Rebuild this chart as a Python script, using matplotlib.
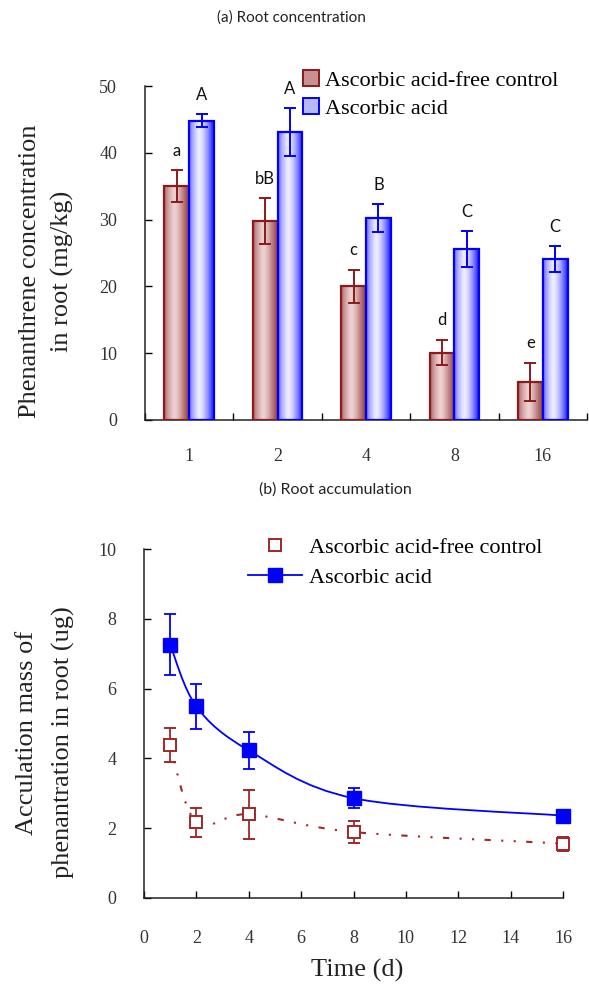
import numpy as np
import matplotlib
matplotlib.use("Agg")
import matplotlib.pyplot as plt
from matplotlib.path import Path
from matplotlib.patches import PathPatch, Patch
from matplotlib.lines import Line2D
from matplotlib.colors import LinearSegmentedColormap

# ---------------- data ----------------
days_labels = ["1", "2", "4", "8", "16"]
conc_control = [35.0, 29.8, 20.0, 10.1, 5.7]
conc_control_err = [2.4, 3.4, 2.5, 1.9, 2.9]
conc_ascorbic = [44.8, 43.1, 30.2, 25.6, 24.1]
conc_ascorbic_err = [1.0, 3.6, 2.1, 2.7, 1.9]
letters_control = ["a", "bB", "c", "d", "e"]
letters_ascorbic = ["A", "A", "B", "C", "C"]

time_days = [1, 2, 4, 8, 16]
acc_control = [4.38, 2.17, 2.40, 1.89, 1.56]
acc_control_err = [0.48, 0.41, 0.70, 0.32, 0.20]
acc_ascorbic = [7.26, 5.49, 4.23, 2.86, 2.36]
acc_ascorbic_err = [0.87, 0.65, 0.53, 0.29, 0.06]

label_control = "Ascorbic acid-free control"
label_ascorbic = "Ascorbic acid"

SERIF = ["Liberation Serif", "DejaVu Serif"]
SANS = ["Lato", "DejaVu Sans"]

red_edge = "#8B1A1A"
red_line = "#A0282A"
blue_edge = "#0000FF"

fig = plt.figure(figsize=(5.89, 9.86), dpi=100)

# ---------------- (a) bar chart ----------------
ax1 = fig.add_axes([145/589, (986-420)/986, (587-145)/589, (420-86)/986])
x = np.arange(len(days_labels))
w = 0.28
bars_c = ax1.bar(x - w/2, conc_control, w, facecolor="none", edgecolor=red_edge,
                 linewidth=1.6, zorder=3)
bars_a = ax1.bar(x + w/2, conc_ascorbic, w, facecolor="none", edgecolor=blue_edge,
                 linewidth=1.6, zorder=3)

cmap_c = LinearSegmentedColormap.from_list("c", ["#8E3C3C", "#BC7E7E", "#EED2D2"])
cmap_a = LinearSegmentedColormap.from_list("a", ["#1515FF", "#8888FF", "#EEEEFF"])
t = np.linspace(0, 1, 64)
profile = 1 - np.clip(np.abs(t - 0.42) / 0.58, 0, 1) ** 1.4
grad = profile[np.newaxis, :]
for bars, cm in ((bars_c, cmap_c), (bars_a, cmap_a)):
    for b in bars:
        x0 = b.get_x()
        x1 = x0 + b.get_width()
        h = b.get_height()
        im = ax1.imshow(grad, extent=(x0, x1, 0, h), aspect="auto", cmap=cm,
                        vmin=0, vmax=1, zorder=2, interpolation="bicubic")
        im.set_clip_path(b)

ax1.errorbar(x - w/2, conc_control, yerr=conc_control_err, fmt="none",
             ecolor=red_edge, elinewidth=1.4, capsize=4, capthick=1.4, zorder=4)
ax1.errorbar(x + w/2, conc_ascorbic, yerr=conc_ascorbic_err, fmt="none",
             ecolor=blue_edge, elinewidth=1.4, capsize=4, capthick=1.4, zorder=4)

for i in range(len(x)):
    ax1.annotate(letters_control[i], (x[i] - w/2, conc_control[i] + conc_control_err[i]),
                 xytext=(0, 14), textcoords="offset points", ha="center", va="center",
                 fontsize=12, family=SANS, color="#111111")
    ax1.annotate(letters_ascorbic[i], (x[i] + w/2, conc_ascorbic[i] + conc_ascorbic_err[i]),
                 xytext=(0, 14), textcoords="offset points", ha="center", va="center",
                 fontsize=12, family=SANS, color="#111111")

ax1.set_xlim(-0.5, len(x) - 0.5)
ax1.set_ylim(0, 50)
ax1.set_yticks(np.arange(0, 51, 10))
ax1.set_xticks(x)
ax1.set_xticklabels(days_labels)
ax1.set_xticks(np.arange(-0.5, len(x), 1.0), minor=True)
ax1.tick_params(axis="x", which="major", length=0, pad=20)
ax1.tick_params(axis="x", which="minor", direction="in", length=5, width=1)
ax1.tick_params(axis="y", direction="in", length=5, width=1, pad=20)
for lab in ax1.get_xticklabels() + ax1.get_yticklabels():
    lab.set_fontfamily(SERIF)
    lab.set_fontsize(13)
    lab.set_color("#333333")
for s in ("top", "right"):
    ax1.spines[s].set_visible(False)
for s in ("left", "bottom"):
    ax1.spines[s].set_linewidth(1.1)
    ax1.spines[s].set_color("#222222")

h1 = [Patch(facecolor="#C89090", edgecolor=red_edge, linewidth=1.4),
      Patch(facecolor="#B8B8FF", edgecolor=blue_edge, linewidth=1.4)]
ax1.legend(h1, [label_control, label_ascorbic], loc="upper left",
           bbox_to_anchor=((303-145)/442, (420-70)/334), frameon=False,
           prop={"family": SERIF, "size": 16}, handlelength=0.7, handleheight=0.7,
           handletextpad=0.3, labelspacing=0.35, borderpad=0, borderaxespad=0)

fig.text(291/589, 1 - 18/986, "(a) Root concentration", ha="center", va="center",
         fontsize=11, family=SANS, color="#222222")
fig.text(30/589, 1 - 271/986, "Phenanthrene concentration", rotation=90,
         ha="center", va="center", fontsize=19, family=SERIF, color="#222222")
fig.text(62/589, 1 - 271/986, "in root (mg/kg)", rotation=90,
         ha="center", va="center", fontsize=19, family=SERIF, color="#222222")

# ---------------- (b) line chart ----------------
ax2 = fig.add_axes([144/589, (986-898)/986, (563-144)/589, (898-549)/986])


def smooth_path(xs, ys):
    pts = np.column_stack([xs, ys]).astype(float)
    n = len(pts)
    verts = [pts[0]]
    codes = [Path.MOVETO]
    for i in range(n - 1):
        p0 = pts[i - 1] if i > 0 else pts[i]
        p1 = pts[i]
        p2 = pts[i + 1]
        p3 = pts[i + 2] if i + 2 < n else pts[i + 1]
        c1 = p1 + (p2 - p0) / 6.0
        c2 = p2 - (p3 - p1) / 6.0
        verts += [c1, c2, p2]
        codes += [Path.CURVE4] * 3
    return Path(verts, codes)


ax2.add_patch(PathPatch(smooth_path(time_days, acc_ascorbic), fill=False,
                        edgecolor=blue_edge, linewidth=1.3, zorder=3))
ax2.add_patch(PathPatch(smooth_path(time_days, acc_control), fill=False,
                        edgecolor=red_line, linewidth=1.5,
                        linestyle=(0, (3, 5, 1, 5, 1, 5)), zorder=3))

eb_a = ax2.errorbar(time_days, acc_ascorbic, yerr=acc_ascorbic_err, fmt="s", color=blue_edge,
                    markersize=9.5, markerfacecolor=blue_edge, markeredgecolor=blue_edge,
                    ecolor=blue_edge, elinewidth=1.3, capsize=4, capthick=1.3, zorder=5)
eb_c = ax2.errorbar(time_days, acc_control, yerr=acc_control_err, fmt="s", color=red_line,
                    markersize=9, markerfacecolor="white", markeredgecolor=red_line,
                    markeredgewidth=1.4, ecolor=red_line, elinewidth=1.3, capsize=4,
                    capthick=1.3, zorder=4)
for eb in (eb_a, eb_c):
    for child in eb.get_children():
        child.set_clip_on(False)

ax2.set_xlim(0, 16)
ax2.set_ylim(0, 10)
ax2.set_xticks(np.arange(0, 17, 2))
ax2.set_yticks(np.arange(0, 11, 2))
ax2.tick_params(axis="x", direction="in", length=5, width=1, pad=23)
ax2.tick_params(axis="y", direction="in", length=5, width=1, pad=20)
for lab in ax2.get_xticklabels() + ax2.get_yticklabels():
    lab.set_fontfamily(SERIF)
    lab.set_fontsize(13)
    lab.set_color("#333333")
for s in ("top", "right"):
    ax2.spines[s].set_visible(False)
for s in ("left", "bottom"):
    ax2.spines[s].set_linewidth(1.1)
    ax2.spines[s].set_color("#222222")

h2 = [Line2D([], [], linestyle="none", marker="s", markersize=9, markerfacecolor="white",
             markeredgecolor=red_line, markeredgewidth=1.4),
      Line2D([], [], linestyle="-", color=blue_edge, linewidth=1.3, marker="s",
             markersize=9.5, markerfacecolor=blue_edge, markeredgecolor=blue_edge)]
ax2.legend(h2, [label_control, label_ascorbic], loc="upper left",
           bbox_to_anchor=((248-144)/419, (898-537)/349), frameon=False,
           prop={"family": SERIF, "size": 16}, handlelength=2.45,
           handletextpad=0.3, labelspacing=0.45, borderpad=0, borderaxespad=0)

fig.text(335/589, 1 - 490/986, "(b) Root accumulation", ha="center", va="center",
         fontsize=11.5, family=SANS, color="#222222")
fig.text(27/589, 1 - 733/986, "Acculation mass of", rotation=90,
         ha="center", va="center", fontsize=19, family=SERIF, color="#222222")
fig.text(63/589, 1 - 742/986, "phenantration in root (ug)", rotation=90,
         ha="center", va="center", fontsize=19, family=SERIF, color="#222222")
fig.text(357/589, 1 - 970/986, "Time (d)", ha="center", va="center",
         fontsize=19, family=SERIF, color="#222222")

fig.savefig("out.png", dpi=100)
